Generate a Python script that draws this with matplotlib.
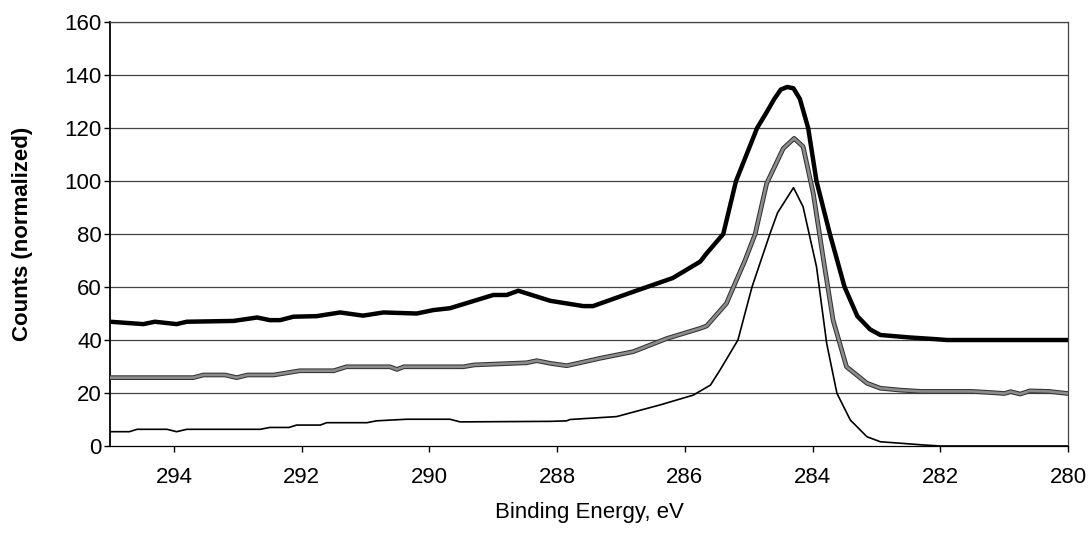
import numpy as np
import matplotlib.pyplot as plt

# binding energy (eV) and normalized counts
E_top = [295.0, 294.48, 294.3, 293.96, 293.8, 293.07, 292.7, 292.5, 292.34, 292.13,
         291.77, 291.4, 291.04, 290.72, 290.2, 289.94, 289.68, 289.0, 288.79, 288.61,
         288.11, 287.59, 287.44, 286.81, 286.19, 285.76, 285.66, 285.4, 285.2, 284.87,
         284.72, 284.6, 284.5, 284.4, 284.3, 284.2, 284.07, 283.94, 283.73, 283.5,
         283.3, 283.1, 282.94, 282.5, 282.06, 281.9, 280.0]
C_top = [46.9, 46.0, 46.9, 46.0, 46.9, 47.2, 48.5, 47.5, 47.5, 48.8,
         49.0, 50.4, 49.2, 50.4, 50.0, 51.3, 52.0, 57.0, 57.0, 58.6,
         54.8, 52.8, 52.8, 58.2, 63.4, 69.6, 72.7, 80.0, 100.0, 120.0,
         126.0, 131.0, 134.5, 135.5, 135.0, 131.0, 120.0, 100.0, 80.0, 60.0,
         49.0, 44.0, 41.9, 41.0, 40.3, 40.0, 40.0]

E_mid = [295.0, 293.7, 293.54, 293.2, 293.02, 292.85, 292.44, 292.03, 291.5, 291.3,
         290.62, 290.51, 290.4, 289.47, 289.3, 288.48, 288.32, 288.11, 287.85, 287.33,
         286.81, 286.28, 285.76, 285.66, 285.35, 285.24, 285.06, 284.9, 284.72, 284.46,
         284.29, 284.15, 283.99, 283.83, 283.68, 283.47, 283.15, 282.94, 282.63, 282.3,
         281.5, 281.1, 281.0, 280.9, 280.75, 280.6, 280.3, 280.0]
C_mid = [25.8, 25.8, 26.8, 26.8, 25.8, 26.8, 26.8, 28.4, 28.4, 29.9,
         29.9, 28.9, 29.9, 29.9, 30.6, 31.4, 32.2, 31.2, 30.3, 33.1,
         35.6, 40.6, 44.4, 45.3, 53.8, 60.0, 70.0, 80.0, 99.1, 112.3,
         116.1, 113.0, 95.3, 70.2, 47.5, 29.9, 23.7, 21.8, 21.1, 20.6,
         20.6, 20.0, 19.8, 20.5, 19.6, 20.8, 20.6, 19.8]

E_low = [295.0, 294.7, 294.58, 294.11, 293.96, 293.8, 292.65, 292.5, 292.2, 292.08,
         291.71, 291.61, 290.98, 290.83, 290.36, 289.68, 289.52, 288.11, 287.85, 287.8,
         287.07, 286.39, 285.87, 285.6, 285.45, 285.17, 284.95, 284.67, 284.55, 284.3,
         284.15, 283.94, 283.78, 283.62, 283.41, 283.15, 282.94, 282.6, 282.27, 282.0,
         280.0]
C_low = [5.4, 5.4, 6.3, 6.3, 5.4, 6.3, 6.3, 7.0, 7.0, 7.9,
         7.9, 8.8, 8.8, 9.5, 10.1, 10.1, 9.1, 9.3, 9.5, 10.0,
         11.1, 15.5, 19.2, 23.0, 28.7, 40.0, 60.0, 80.0, 88.0, 97.5,
         90.3, 67.7, 38.7, 19.9, 9.8, 3.5, 1.6, 1.0, 0.4, 0.0,
         0.0]

x_ticks = [294, 292, 290, 288, 286, 284, 282, 280]
y_ticks = [0, 20, 40, 60, 80, 100, 120, 140, 160]

plt.rcParams['font.family'] = ['Liberation Sans', 'DejaVu Sans']

fig = plt.figure(figsize=(10.91, 5.38), dpi=100)
ax = fig.add_axes([0.101, 0.171, 0.878, 0.788])

for y in y_ticks[1:]:
    ax.axhline(y, color='#444444', lw=0.9, zorder=1)

ax.plot(E_top, C_top, color='black', lw=3.2, solid_joinstyle='round', zorder=3)
ax.plot(E_mid, C_mid, color='#333333', lw=3.4, solid_joinstyle='round', zorder=3)
ax.plot(E_mid, C_mid, color='#8c8c8c', lw=1.9, solid_joinstyle='round', zorder=4)
ax.plot(E_low, C_low, color='black', lw=1.2, zorder=3)

ax.set_xlim(295, 280)
ax.set_ylim(0, 160)
ax.set_xticks(x_ticks)
ax.set_yticks(y_ticks)
ax.tick_params(axis='both', labelsize=16, direction='out', length=4, width=1, color='black')
ax.tick_params(axis='x', pad=11)
ax.tick_params(axis='y', pad=2)

for s in ax.spines.values():
    s.set_linewidth(0.9)
    s.set_color('#444444')
ax.spines['left'].set_color('black')
ax.spines['left'].set_linewidth(1.3)
ax.spines['bottom'].set_color('black')

ax.set_xlabel('Binding Energy, eV', fontsize=16, labelpad=10)
ax.set_ylabel('Counts (normalized)', fontsize=16, fontweight='bold', labelpad=23)

fig.savefig('out.png', dpi=100)
